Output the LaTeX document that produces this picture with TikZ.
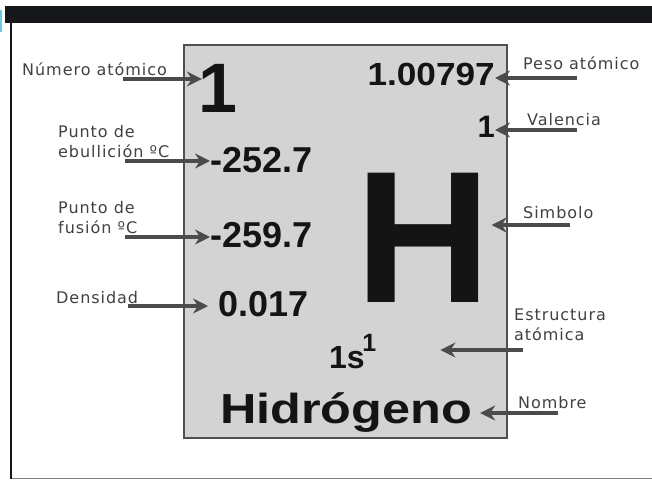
\documentclass[tikz,border=0pt]{standalone}
\usepackage{fontspec}
\setmainfont{Liberation Sans}
\newfontfamily\lblfont[LetterSpace=6]{DejaVu Sans}
\usetikzlibrary{arrows.meta}

\definecolor{framebar}{RGB}{22,23,27}
\definecolor{cardfill}{RGB}{211,211,211}
\definecolor{cardline}{RGB}{80,80,80}
\definecolor{lblgray}{RGB}{65,65,65}
\definecolor{arrowgray}{RGB}{75,75,75}
\definecolor{tabcyan}{RGB}{110,200,225}

\newcommand{\valsize}[1]{\fontsize{#1}{#1}\selectfont}

\tikzset{
  lbl/.style={font=\lblfont\fontsize{16}{20}\selectfont, text=lblgray, inner sep=0pt, align=left},
  val/.style={font=\bfseries, text=black!92, inner sep=0pt},
  pointer/.style={draw=arrowgray, line width=3.2pt, -{Stealth[length=15pt,width=15pt,inset=5pt]}},
}

\begin{document}
\begin{tikzpicture}[x=1pt,y=-1pt]
        \useasboundingbox (0,0) rectangle (652,479);

        % Screenshot frame
        \fill[framebar] (5,6) rectangle (652,23);
        \fill[framebar] (9.5,23) rectangle (12,479);
        \draw[gray, line width=1pt] (12,478) -- (652,478);
        \fill[tabcyan] (0,10) rectangle (2,32);

        % Card
        \filldraw[fill=cardfill, draw=cardline, line width=2.2pt] (184,45) rectangle (507,438);

        % Values on the card
        \node[val, anchor=base] (vNum) at (217.5,112) {\valsize{70}1};
        \node[val, anchor=base east] (vWeight) at (495,85) {\valsize{32}\scalebox{1.1}[1]{1.00797}};
        \node[val, anchor=base east] (vVal) at (495,137) {\valsize{31}1};
        \node[val, anchor=base west] (vBoil) at (210,172) {\valsize{36}-252.7};
        \node[val, anchor=base west] (vMelt) at (210,247) {\valsize{36}-259.7};
        \node[val, anchor=base west] (vDens) at (218,316) {\valsize{36}0.017};
        \node[val, anchor=base] (vSym) at (423.5,302) {\valsize{188}H};
        \node[val, anchor=base west] (vConf) at (329,368) {\valsize{32}1s\kern-2.5pt\raisebox{17pt}{\valsize{25}1}};
        \node[val, anchor=base] (vName) at (346,423) {\valsize{42}\scalebox{1.2}[1]{Hidrógeno}};

        % Labels
        \node[lbl, anchor=base west] (lNum) at (22,75) {Número atómico};
        \node[lbl, anchor=base west] (lBoil) at (58,157) {Punto de\\ebullición ºC};
        \node[lbl, anchor=base west] (lMelt) at (58,233) {Punto de\\fusión ºC};
        \node[lbl, anchor=base west] (lDens) at (56,303) {Densidad};
        \node[lbl, anchor=base west] (lWeight) at (523,69) {Peso atómico};
        \node[lbl, anchor=base west] (lVal) at (527,125) {Valencia};
        \node[lbl, anchor=base west] (lSym) at (523,218) {Simbolo};
        \node[lbl, anchor=base west] (lConf) at (514,340) {Estructura\\atómica};
        \node[lbl, anchor=base west] (lName) at (518,408) {Nombre};

        % Arrow tails
        \coordinate (tNum) at (123,79);
        \coordinate (tBoil) at (125,161);
        \coordinate (tMelt) at (125,237);
        \coordinate (tDens) at (128,306);
        \coordinate (tWeight) at (577,78);
        \coordinate (tVal) at (577,130);
        \coordinate (tSym) at (570,225);
        \coordinate (tConf) at (523,350);
        \coordinate (tName) at (558,413);

        % Arrows
        \draw[pointer, shorten >=-4pt] (tNum) -- (tNum -| vNum.west);
        \draw[pointer] (tBoil) -- (tBoil -| vBoil.west);
        \draw[pointer] (tMelt) -- (tMelt -| vMelt.west);
        \draw[pointer, shorten >=10pt] (tDens) -- (tDens -| vDens.west);
        \draw[pointer] (tWeight) -- (tWeight -| vWeight.east);
        \draw[pointer] (tVal) -- (tVal -| vVal.east);
        \draw[pointer] (tSym) -- (tSym -| vSym.east);
        \draw[pointer, shorten >=64pt] (tConf) -- (tConf -| vConf.east);
        \draw[pointer, shorten >=8pt] (tName) -- (tName -| vName.east);
\end{tikzpicture}
\end{document}
